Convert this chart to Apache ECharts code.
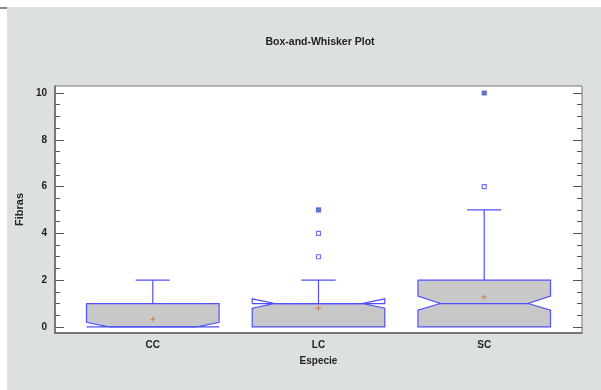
<!DOCTYPE html>
<html>
<head>
<meta charset="utf-8">
<script src="https://cdn.jsdelivr.net/npm/echarts@6/dist/echarts.min.js"></script>
<style>
html,body{margin:0;padding:0;background:#fff;}
#chart{width:601px;height:390px;}
</style>
</head>
<body>
<div id="chart"></div>
<script>
// ---- data ----
var categories = ['CC', 'LC', 'SC'];
var whiskerLow  = [0, 0, 0];
var q1Values    = [0, 0, 0];
var medians     = [0, 1, 1];
var q3Values    = [1, 1, 2];
var whiskerHigh = [2, 2, 5];
var notchLow    = [-0.2, 0.8, 0.72];
var notchHigh   = [0.2, 1.2, 1.32];
var means       = [0.33, 0.8, 1.28];
var outliers    = [[2, 3], [2, 4], [3, 6]];
var farOutliers = [[2, 5], [3, 10]];
var majorTicks  = [0, 2, 4, 6, 8, 10];
var minorTicks  = [0, 0.5, 1, 1.5, 2, 2.5, 3, 3.5, 4, 4.5, 5, 5.5, 6, 6.5, 7, 7.5, 8, 8.5, 9, 9.5, 10];

// ---- styles ----
var YMIN = -0.26, YMAX = 10.3;
var XMIN = 0.41, XMAX = 3.59;
var BOX_HALF = 0.4, NOTCH_HALF = 0.265, CAP_HALF = 0.103;
var BLUE = '#5050ff';
var FONT = "'Liberation Sans Narrow', 'Liberation Sans', Arial, sans-serif";

var boxData = categories.map(function (c, i) {
  return [i + 1, whiskerLow[i], q1Values[i], medians[i], q3Values[i], whiskerHigh[i], notchLow[i], notchHigh[i]];
});

function renderBox(params, api) {
  var x = api.value(0);
  var lo = api.value(1), q1 = api.value(2), med = api.value(3), q3 = api.value(4), hi = api.value(5);
  var nL = Math.max(api.value(6), q1), nH = api.value(7);
  var hw = api.size([BOX_HALF, 0])[0];
  var iw = api.size([NOTCH_HALF, 0])[0];
  var cw = api.size([CAP_HALF, 0])[0];
  function p(dx, v) { var c = api.coord([x, v]); return [c[0] + dx, c[1]]; }
  var nHc = Math.min(nH, q3);
  var fillPts = [p(-hw, q3), p(-hw, nHc), p(-iw, med), p(-hw, nL), p(-hw, q1),
                 p(hw, q1), p(hw, nL), p(iw, med), p(hw, nHc), p(hw, q3)];
  var outPts = [p(-hw, q3), p(-hw, nH), p(-iw, med), p(-hw, nL), p(-hw, q1),
                p(hw, q1), p(hw, nL), p(iw, med), p(hw, nH), p(hw, q3), p(-hw, q3)];
  var children = [
    { type: 'polygon', shape: { points: fillPts }, style: { fill: '#c8c8c8', stroke: null } },
    { type: 'polyline', shape: { points: outPts }, style: { fill: null, stroke: BLUE, lineWidth: 1.2 } },
    { type: 'line', shape: { x1: p(-iw, med)[0], y1: p(0, med)[1], x2: p(iw, med)[0], y2: p(0, med)[1] }, style: { stroke: BLUE, lineWidth: 1.2 } }
  ];
  if (hi > q3) {
    children.push({ type: 'line', shape: { x1: p(0, q3)[0], y1: p(0, q3)[1], x2: p(0, hi)[0], y2: p(0, hi)[1] }, style: { stroke: BLUE, lineWidth: 1.2 } });
    children.push({ type: 'line', shape: { x1: p(-cw, hi)[0], y1: p(0, hi)[1], x2: p(cw, hi)[0], y2: p(0, hi)[1] }, style: { stroke: BLUE, lineWidth: 1.2 } });
  }
  if (lo < q1) {
    children.push({ type: 'line', shape: { x1: p(0, q1)[0], y1: p(0, q1)[1], x2: p(0, lo)[0], y2: p(0, lo)[1] }, style: { stroke: BLUE, lineWidth: 1.2 } });
    children.push({ type: 'line', shape: { x1: p(-cw, lo)[0], y1: p(0, lo)[1], x2: p(cw, lo)[0], y2: p(0, lo)[1] }, style: { stroke: BLUE, lineWidth: 1.2 } });
  }
  return { type: 'group', children: children };
}

function yAx(pos, values, len, labels, line) {
  return {
    type: 'value', position: pos, min: YMIN, max: YMAX,
    axisLine: { show: line, onZero: false, lineStyle: { color: '#666', width: 1.5 } },
    axisTick: { show: true, inside: true, length: len, customValues: values, lineStyle: { color: '#555', width: 1 } },
    axisLabel: labels ? { show: true, customValues: majorTicks, margin: 8, color: '#222', fontSize: 10, fontWeight: 'bold', fontFamily: FONT } : { show: false },
    splitLine: { show: false }
  };
}

var chart = echarts.init(document.getElementById('chart'), null, { renderer: 'canvas' });
var yAxes = [yAx('left', majorTicks, 9, true, true), yAx('left', minorTicks, 5, false, false),
             yAx('right', majorTicks, 9, false, false), yAx('right', minorTicks, 5, false, false)];
yAxes[0].name = 'Fibras';
yAxes[0].nameLocation = 'middle';
yAxes[0].nameGap = 30;
yAxes[0].nameTextStyle = { color: '#222', fontSize: 11, fontWeight: 'bold', fontFamily: FONT };

chart.setOption({
  animation: false,
  backgroundColor: '#fff',
  graphic: [
    { type: 'rect', z: -10, silent: true, shape: { x: 7, y: 7, width: 594, height: 383 }, style: { fill: '#dde1de' } },
    { type: 'rect', z: -10, silent: true, shape: { x: 0, y: 7, width: 7, height: 2 }, style: { fill: '#8a8a8a' } }
  ],
  title: {
    text: 'Box-and-Whisker Plot', left: 315, top: 32, textAlign: 'center',
    textStyle: { color: '#222', fontSize: 10.5, fontWeight: 'bold', fontFamily: FONT }
  },
  grid: { left: 55, right: 19, top: 86, bottom: 57, show: true, backgroundColor: '#fff', borderColor: '#777', borderWidth: 1 },
  xAxis: {
    type: 'value', min: XMIN, max: XMAX,
    name: 'Especie', nameLocation: 'middle', nameGap: 23,
    nameTextStyle: { color: '#222', fontSize: 10, fontWeight: 'bold', fontFamily: FONT },
    axisLine: { show: true, onZero: false, lineStyle: { color: '#666', width: 1.5 } },
    axisTick: { show: false },
    axisLabel: { customValues: [1, 2, 3], margin: 7, color: '#222', fontSize: 10, fontWeight: 'bold', fontFamily: FONT,
      formatter: function (v) { return categories[Math.round(v) - 1] || ''; } },
    splitLine: { show: false }
  },
  yAxis: yAxes,
  series: [
    { type: 'custom', renderItem: renderBox, data: boxData, encode: { x: 0, y: [1, 2, 3, 4, 5] }, z: 2 },
    { type: 'scatter', data: outliers, symbol: 'rect', symbolSize: 4, z: 3,
      itemStyle: { color: '#fff', borderColor: BLUE, borderWidth: 1.2 } },
    { type: 'scatter', data: farOutliers, symbol: 'rect', symbolSize: 4, z: 3,
      itemStyle: { color: '#2f7a5a', borderColor: BLUE, borderWidth: 1.2 } },
    { type: 'scatter', data: means.map(function (m, i) { return [i + 1, m]; }), z: 4,
      symbol: 'path://M4,0 L6,0 L6,4 L10,4 L10,6 L6,6 L6,10 L4,10 L4,6 L0,6 L0,4 L4,4 Z', symbolSize: 5,
      itemStyle: { color: '#c0703a' } }
  ]
});
</script>
</body>
</html>
